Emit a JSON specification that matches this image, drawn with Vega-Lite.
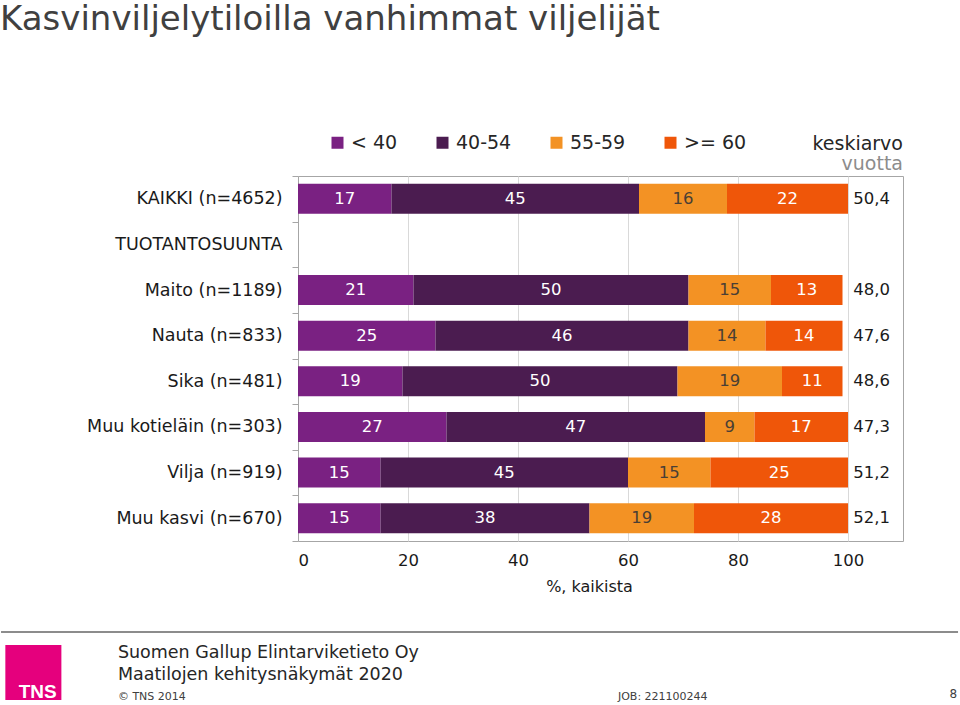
{
  "$schema": "https://vega.github.io/schema/vega-lite/v6.json",
  "padding": {"top": 3, "left": 0, "right": 0, "bottom": 0},
  "background": "white",
  "title": {
    "text": "Kasvinviljelytiloilla vanhimmat viljelijät",
    "anchor": "start",
    "fontSize": 34,
    "font": "DejaVu Sans",
    "fontWeight": "normal",
    "color": "#404040",
    "offset": 96
  },
  "datasets": {
    "osuudet": [
      {"ryhma": "KAIKKI (n=4652)", "ika": "< 40", "jarj": 1, "osuus": 17},
      {"ryhma": "KAIKKI (n=4652)", "ika": "40-54", "jarj": 2, "osuus": 45},
      {"ryhma": "KAIKKI (n=4652)", "ika": "55-59", "jarj": 3, "osuus": 16},
      {"ryhma": "KAIKKI (n=4652)", "ika": ">= 60", "jarj": 4, "osuus": 22},
      {"ryhma": "Maito (n=1189)", "ika": "< 40", "jarj": 1, "osuus": 21},
      {"ryhma": "Maito (n=1189)", "ika": "40-54", "jarj": 2, "osuus": 50},
      {"ryhma": "Maito (n=1189)", "ika": "55-59", "jarj": 3, "osuus": 15},
      {"ryhma": "Maito (n=1189)", "ika": ">= 60", "jarj": 4, "osuus": 13},
      {"ryhma": "Nauta (n=833)", "ika": "< 40", "jarj": 1, "osuus": 25},
      {"ryhma": "Nauta (n=833)", "ika": "40-54", "jarj": 2, "osuus": 46},
      {"ryhma": "Nauta (n=833)", "ika": "55-59", "jarj": 3, "osuus": 14},
      {"ryhma": "Nauta (n=833)", "ika": ">= 60", "jarj": 4, "osuus": 14},
      {"ryhma": "Sika (n=481)", "ika": "< 40", "jarj": 1, "osuus": 19},
      {"ryhma": "Sika (n=481)", "ika": "40-54", "jarj": 2, "osuus": 50},
      {"ryhma": "Sika (n=481)", "ika": "55-59", "jarj": 3, "osuus": 19},
      {"ryhma": "Sika (n=481)", "ika": ">= 60", "jarj": 4, "osuus": 11},
      {"ryhma": "Muu kotieläin (n=303)", "ika": "< 40", "jarj": 1, "osuus": 27},
      {"ryhma": "Muu kotieläin (n=303)", "ika": "40-54", "jarj": 2, "osuus": 47},
      {"ryhma": "Muu kotieläin (n=303)", "ika": "55-59", "jarj": 3, "osuus": 9},
      {"ryhma": "Muu kotieläin (n=303)", "ika": ">= 60", "jarj": 4, "osuus": 17},
      {"ryhma": "Vilja (n=919)", "ika": "< 40", "jarj": 1, "osuus": 15},
      {"ryhma": "Vilja (n=919)", "ika": "40-54", "jarj": 2, "osuus": 45},
      {"ryhma": "Vilja (n=919)", "ika": "55-59", "jarj": 3, "osuus": 15},
      {"ryhma": "Vilja (n=919)", "ika": ">= 60", "jarj": 4, "osuus": 25},
      {"ryhma": "Muu kasvi (n=670)", "ika": "< 40", "jarj": 1, "osuus": 15},
      {"ryhma": "Muu kasvi (n=670)", "ika": "40-54", "jarj": 2, "osuus": 38},
      {"ryhma": "Muu kasvi (n=670)", "ika": "55-59", "jarj": 3, "osuus": 19},
      {"ryhma": "Muu kasvi (n=670)", "ika": ">= 60", "jarj": 4, "osuus": 28}
    ],
    "keskiarvot": [
      {"ryhma": "KAIKKI (n=4652)", "keskiarvo": 50.4},
      {"ryhma": "Maito (n=1189)", "keskiarvo": 48.0},
      {"ryhma": "Nauta (n=833)", "keskiarvo": 47.6},
      {"ryhma": "Sika (n=481)", "keskiarvo": 48.6},
      {"ryhma": "Muu kotieläin (n=303)", "keskiarvo": 47.3},
      {"ryhma": "Vilja (n=919)", "keskiarvo": 51.2},
      {"ryhma": "Muu kasvi (n=670)", "keskiarvo": 52.1}
    ],
    "alatunniste": [
      {"rooli": "logo", "teksti": "TNS"},
      {"rooli": "yritys", "teksti": "Suomen Gallup Elintarviketieto Oy"},
      {"rooli": "raportti", "teksti": "Maatilojen kehitysnäkymät 2020"},
      {"rooli": "copyright", "teksti": "© TNS 2014"},
      {"rooli": "job", "teksti": "JOB: 221100244"},
      {"rooli": "sivu", "teksti": "8"}
    ]
  },
  "spacing": 30,
  "vconcat": [
    {
      "width": 605,
      "height": 365,
      "title": {
        "text": "keskiarvo",
        "subtitle": "vuotta",
        "anchor": "end",
        "frame": "group",
        "fontSize": 19,
        "subtitleFontSize": 19,
        "font": "DejaVu Sans",
        "subtitleFont": "DejaVu Sans",
        "fontWeight": "normal",
        "color": "#262626",
        "subtitleColor": "#8c8c8c",
        "subtitlePadding": 1,
        "offset": -7
      },
      "layer": [
        {
          "data": {"name": "osuudet"},
          "transform": [
            {"stack": "osuus", "groupby": ["ryhma"], "sort": [{"field": "jarj", "order": "ascending"}], "as": ["x0", "x1"]}
          ],
          "mark": {"type": "bar", "height": {"band": 0.66}},
          "encoding": {
            "y": {
              "field": "ryhma",
              "type": "nominal",
              "scale": {
                "domain": ["KAIKKI (n=4652)", "TUOTANTOSUUNTA", "Maito (n=1189)", "Nauta (n=833)", "Sika (n=481)", "Muu kotieläin (n=303)", "Vilja (n=919)", "Muu kasvi (n=670)"],
                "paddingInner": 0,
                "paddingOuter": 0
              },
              "axis": {
                "title": null,
                "labelFontSize": 17.5,
                "labelFont": "DejaVu Sans",
                "labelColor": "#1a1a1a",
                "tickBand": "extent",
                "tickSize": 6,
                "tickColor": "#a6a6a6",
                "domainColor": "#a6a6a6",
                "labelPadding": 10,
                "minExtent": 297,
                "maxExtent": 297,
                "labelLimit": 300,
                "grid": false
              }
            },
            "x": {
              "field": "x0",
              "type": "quantitative",
              "scale": {"domain": [0, 110], "nice": false},
              "axis": {
                "values": [0, 20, 40, 60, 80, 100],
                "title": "%, kaikista",
                "titleFontSize": 16,
                "titleFont": "DejaVu Sans",
                "titleFontWeight": "normal",
                "titleColor": "#1a1a1a",
                "titleX": 291,
                "titlePadding": 10,
                "labelFontSize": 16.5,
                "labelFont": "DejaVu Sans",
                "labelColor": "#1a1a1a",
                "labelPadding": 11,
                "ticks": false,
                "domain": false,
                "grid": true,
                "gridColor": "#d9d9d9"
              }
            },
            "x2": {"field": "x1"},
            "color": {
              "field": "ika",
              "type": "nominal",
              "scale": {
                "domain": ["< 40", "40-54", "55-59", ">= 60"],
                "range": ["#7A2182", "#4B1C50", "#F39224", "#EF5609"]
              },
              "legend": {
                "orient": "none",
                "legendX": 30,
                "legendY": -43,
                "direction": "horizontal",
                "title": null,
                "symbolType": "square",
                "symbolSize": 144,
                "symbolStrokeWidth": 0,
                "labelFontSize": 19,
                "labelFont": "DejaVu Sans",
                "labelColor": "#262626",
                "labelOffset": 4,
                "columnPadding": 35
              }
            }
          }
        },
        {
          "data": {"name": "osuudet"},
          "transform": [
            {"stack": "osuus", "groupby": ["ryhma"], "sort": [{"field": "jarj", "order": "ascending"}], "as": ["x0", "x1"]},
            {"calculate": "(datum.x0 + datum.x1) / 2", "as": "xm"}
          ],
          "mark": {"type": "text", "fontSize": 16.5, "font": "DejaVu Sans", "baseline": "middle", "align": "center"},
          "encoding": {
            "y": {"field": "ryhma", "type": "nominal"},
            "x": {"field": "xm", "type": "quantitative"},
            "text": {"field": "osuus", "type": "quantitative", "format": "d"},
            "color": {
              "condition": {"test": "datum.ika === '55-59'", "value": "#4a3f35"},
              "value": "#ffffff"
            }
          }
        },
        {
          "data": {"name": "keskiarvot"},
          "mark": {"type": "text", "fontSize": 16.5, "font": "DejaVu Sans", "baseline": "middle", "align": "center", "color": "#1a1a1a"},
          "encoding": {
            "y": {"field": "ryhma", "type": "nominal"},
            "x": {"datum": 104.3, "type": "quantitative"},
            "text": {"field": "keskiarvo", "type": "quantitative", "format": ".1f"}
          }
        }
      ]
    },
    {
      "width": 661,
      "height": 80,
      "view": {"stroke": null},
      "data": {"name": "alatunniste"},
      "layer": [
        {
          "transform": [{"filter": "datum.rooli === 'logo'"}],
          "mark": {"type": "rule", "color": "#8c8c8c", "strokeWidth": 2, "clip": false},
          "encoding": {
            "x": {"datum": 0, "type": "quantitative", "scale": {"domain": [31, 100], "nice": false, "zero": false}, "axis": null},
            "x2": {"datum": 99.9},
            "y": {"datum": 8.75, "type": "quantitative", "scale": {"domain": [0, 100], "reverse": true, "nice": false}, "axis": null}
          }
        },
        {
          "transform": [{"filter": "datum.rooli === 'logo'"}],
          "mark": {"type": "rect", "color": "#E5007D", "clip": false},
          "encoding": {
            "x": {"datum": 0.45, "type": "quantitative"},
            "x2": {"datum": 6.3},
            "y": {"datum": 25, "type": "quantitative"},
            "y2": {"datum": 93.75}
          }
        },
        {
          "transform": [{"filter": "datum.rooli === 'logo'"}],
          "mark": {"type": "text", "font": "Liberation Sans", "fontWeight": "bold", "fontSize": 19, "color": "white", "align": "left", "baseline": "alphabetic"},
          "encoding": {
            "x": {"datum": 1.85, "type": "quantitative"},
            "y": {"datum": 91.5, "type": "quantitative"},
            "text": {"field": "teksti"}
          }
        },
        {
          "transform": [{"filter": "datum.rooli === 'yritys'"}],
          "mark": {"type": "text", "font": "DejaVu Sans", "fontSize": 17.5, "color": "#262626", "align": "left", "baseline": "middle"},
          "encoding": {
            "x": {"datum": 12.2, "type": "quantitative"},
            "y": {"datum": 35, "type": "quantitative"},
            "text": {"field": "teksti"}
          }
        },
        {
          "transform": [{"filter": "datum.rooli === 'raportti'"}],
          "mark": {"type": "text", "font": "DejaVu Sans", "fontSize": 17.5, "color": "#262626", "align": "left", "baseline": "middle"},
          "encoding": {
            "x": {"datum": 12.2, "type": "quantitative"},
            "y": {"datum": 62.5, "type": "quantitative"},
            "text": {"field": "teksti"}
          }
        },
        {
          "transform": [{"filter": "datum.rooli === 'copyright'"}],
          "mark": {"type": "text", "font": "DejaVu Sans", "fontSize": 11, "color": "#404040", "align": "left", "baseline": "middle"},
          "encoding": {
            "x": {"datum": 12.2, "type": "quantitative"},
            "y": {"datum": 90, "type": "quantitative"},
            "text": {"field": "teksti"}
          }
        },
        {
          "transform": [{"filter": "datum.rooli === 'job'"}],
          "mark": {"type": "text", "font": "DejaVu Sans", "fontSize": 11, "color": "#404040", "align": "left", "baseline": "middle"},
          "encoding": {
            "x": {"datum": 64.4, "type": "quantitative"},
            "y": {"datum": 90, "type": "quantitative"},
            "text": {"field": "teksti"}
          }
        },
        {
          "transform": [{"filter": "datum.rooli === 'sivu'"}],
          "mark": {"type": "text", "font": "DejaVu Sans", "fontSize": 12, "color": "#404040", "align": "right", "baseline": "middle"},
          "encoding": {
            "x": {"datum": 99.8, "type": "quantitative"},
            "y": {"datum": 86, "type": "quantitative"},
            "text": {"field": "teksti"}
          }
        }
      ]
    }
  ],
  "resolve": {"scale": {"x": "independent", "y": "independent"}},
  "config": {
    "locale": {"number": {"decimal": ",", "thousands": " ", "grouping": [3], "currency": ["", " €"]}},
    "view": {"stroke": "#a6a6a6"},
    "font": "DejaVu Sans"
  }
}
